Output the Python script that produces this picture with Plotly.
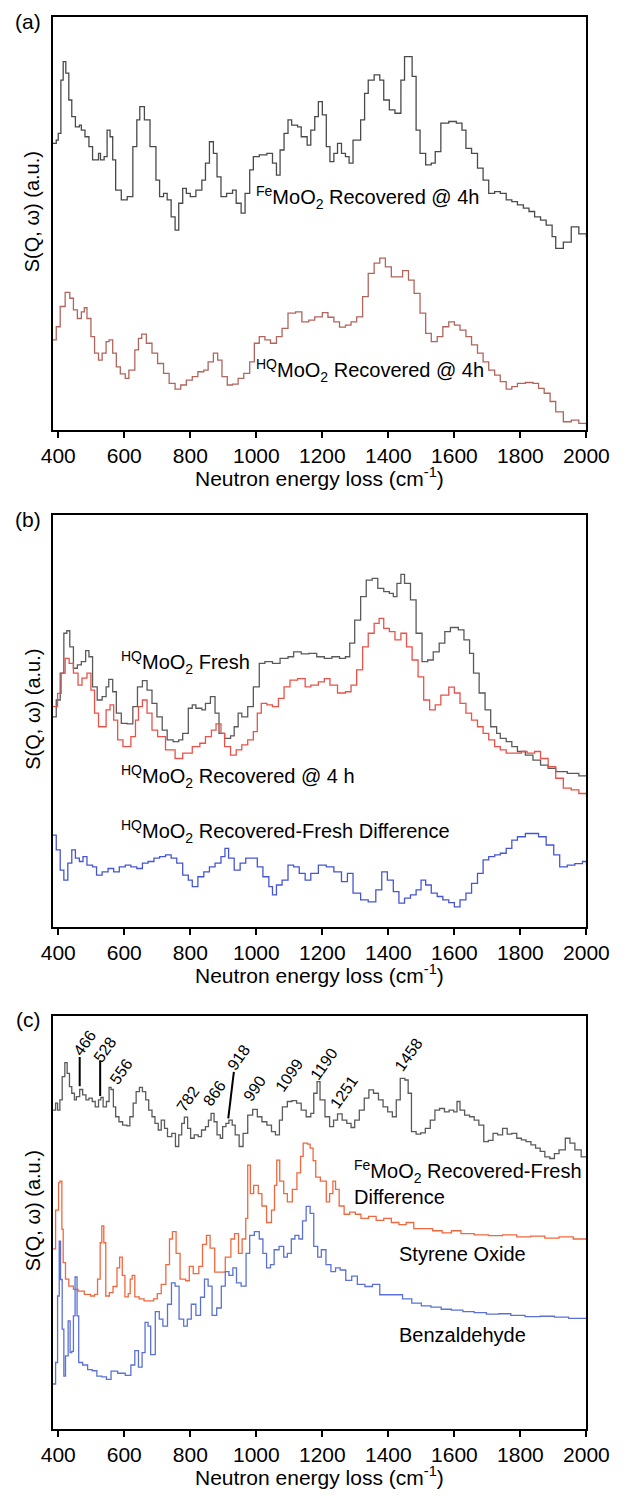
import plotly.graph_objects as go

# ---------------- data (energy in cm-1, intensity in arbitrary units 0-100) ----------------
a_fe_E = [383, 394, 400, 408, 415, 423, 432, 441, 452, 464, 470, 481, 493, 504, 522, 528, 539, 548, 557, 565,
          574, 591, 609, 626, 638, 647, 661, 678, 696, 707, 719, 730, 742, 754, 765, 777, 788, 800, 817, 835,
          846, 858, 870, 881, 893, 910, 928, 939, 954, 966, 980, 991, 1009, 1032, 1049, 1061, 1072, 1084, 1096,
          1107, 1125, 1136, 1154, 1165, 1177, 1188, 1200, 1212, 1223, 1235, 1246, 1258, 1270, 1281, 1293, 1304,
          1316, 1328, 1339, 1357, 1374, 1386, 1403, 1420, 1438, 1449, 1472, 1484, 1496, 1513, 1530, 1542, 1559,
          1583, 1606, 1623, 1635, 1652, 1670, 1687, 1704, 1722, 1739, 1757, 1774, 1791, 1809, 1826, 1843, 1861,
          1878, 1896, 1907, 1930, 1954, 1977, 2000]
a_fe_S = [69.4, 70.2, 71.8, 84.7, 89.2, 86.4, 79.9, 75.9, 73.4, 73.8, 72.6, 71.0, 68.6, 65.4, 67.0, 65.4, 66.2,
          72.6, 71.0, 65.4, 58.1, 55.7, 56.5, 68.6, 75.1, 78.3, 75.1, 68.6, 60.5, 56.5, 57.3, 55.7, 51.6, 48.4,
          54.9, 58.5, 57.3, 56.5, 58.1, 60.5, 64.6, 69.8, 67.0, 61.3, 56.5, 57.3, 58.1, 54.9, 52.5, 57.3, 63.0,
          66.2, 66.6, 67.0, 64.6, 61.7, 67.8, 71.8, 75.1, 73.8, 73.4, 71.0, 69.0, 72.6, 75.9, 79.5, 76.3, 68.6,
          65.0, 67.0, 69.4, 67.0, 66.2, 64.6, 70.2, 70.2, 75.1, 81.5, 84.7, 86.0, 84.7, 79.9, 77.5, 76.7, 84.7,
          90.4, 85.6, 72.6, 67.0, 64.2, 64.6, 67.4, 74.3, 74.7, 74.3, 72.6, 68.2, 67.0, 63.4, 60.5, 57.3, 57.7,
          57.3, 55.7, 55.3, 54.5, 53.7, 52.9, 51.6, 50.8, 49.6, 46.8, 44.0, 45.5, 49.2, 47.5, 46.5]

a_hq_E = [383, 394, 406, 421, 435, 446, 458, 470, 479, 487, 499, 510, 522, 533, 545, 554, 565, 576, 588, 603,
          614, 632, 643, 653, 667, 684, 701, 719, 736, 754, 771, 788, 806, 823, 841, 854, 870, 883, 896, 912,
          928, 945, 962, 980, 994, 1009, 1026, 1043, 1061, 1078, 1096, 1119, 1138, 1159, 1177, 1200, 1217, 1235,
          1252, 1270, 1287, 1304, 1322, 1339, 1357, 1374, 1391, 1409, 1426, 1443, 1461, 1478, 1496, 1513, 1530,
          1548, 1565, 1583, 1600, 1617, 1635, 1652, 1670, 1687, 1704, 1722, 1739, 1757, 1774, 1791, 1815, 1838,
          1855, 1872, 1890, 1907, 1930, 1954, 1977, 2000]
a_hq_S = [21.8, 25.0, 29.9, 33.3, 31.9, 29.1, 27.0, 28.6, 29.6, 27.0, 22.6, 18.6, 16.9, 18.6, 21.4, 21.8, 18.6,
          15.3, 13.6, 12.5, 14.5, 19.4, 22.2, 23.2, 21.0, 18.6, 16.1, 13.7, 11.3, 9.9, 10.9, 12.1, 12.9, 14.1,
          14.5, 16.5, 18.6, 16.9, 12.9, 10.9, 11.1, 12.5, 13.7, 16.5, 21.0, 22.6, 21.8, 21.0, 22.6, 24.6, 28.3,
          28.6, 26.2, 26.6, 27.4, 28.4, 27.3, 26.2, 24.9, 25.4, 26.2, 27.4, 32.3, 37.9, 40.4, 41.6, 39.5, 37.1,
          37.1, 38.6, 36.3, 33.1, 28.3, 23.4, 21.4, 22.6, 25.0, 26.2, 25.4, 24.2, 22.6, 20.6, 18.6, 16.5, 14.5,
          13.3, 11.7, 9.9, 10.5, 11.3, 11.5, 11.3, 10.1, 8.9, 6.9, 4.4, 2.0, 2.4, 1.6, 1.0]

b_fresh_E = [383, 394, 406, 417, 426, 435, 446, 458, 470, 483, 493, 504, 518, 533, 545, 553, 565, 576, 591, 609,
             626, 640, 655, 669, 684, 699, 715, 730, 748, 765, 777, 794, 806, 817, 835, 846, 861, 875, 887, 904,
             922, 933, 945, 956, 974, 991, 1009, 1026, 1049, 1072, 1096, 1113, 1136, 1159, 1183, 1206, 1229,
             1252, 1270, 1283, 1298, 1316, 1333, 1351, 1368, 1386, 1403, 1415, 1426, 1438, 1449, 1467, 1484,
             1502, 1519, 1536, 1554, 1571, 1588, 1612, 1629, 1646, 1658, 1675, 1693, 1710, 1728, 1739, 1757,
             1774, 1791, 1815, 1838, 1861, 1884, 1907, 1942, 1977, 2000]
b_fresh_S = [51.0, 55.1, 61.6, 71.3, 71.9, 68.0, 62.8, 63.6, 64.4, 67.1, 65.6, 58.3, 55.1, 55.9, 58.3, 60.1, 57.1,
             51.9, 49.4, 49.3, 53.5, 58.3, 59.8, 57.5, 54.3, 51.0, 47.8, 45.4, 45.0, 45.4, 47.0, 53.1, 53.9, 53.1,
             52.7, 54.3, 55.9, 51.9, 47.0, 45.8, 46.4, 48.6, 51.9, 51.0, 53.5, 58.3, 64.0, 64.4, 64.0, 65.2, 65.6,
             66.8, 66.3, 66.4, 65.6, 65.2, 65.6, 65.2, 65.6, 68.9, 74.5, 80.2, 84.2, 84.6, 82.2, 81.4, 81.0, 80.2,
             83.4, 85.6, 83.4, 79.4, 71.3, 64.4, 64.8, 66.8, 68.9, 71.7, 72.7, 72.1, 69.7, 66.4, 61.6, 56.8, 52.7,
             48.6, 47.0, 45.8, 45.0, 43.8, 42.6, 41.7, 40.5, 39.3, 38.5, 37.7, 37.3, 36.7, 36.5]

b_rec_E = [383, 398, 409, 421, 433, 446, 460, 472, 487, 499, 510, 522, 533, 545, 557, 568, 580, 596, 620, 634,
           643, 655, 669, 684, 701, 725, 754, 777, 806, 829, 846, 864, 878, 893, 904, 922, 939, 956, 974, 991,
           1003, 1015, 1032, 1049, 1067, 1084, 1102, 1125, 1148, 1165, 1188, 1206, 1223, 1246, 1270, 1287, 1304,
           1322, 1339, 1357, 1372, 1386, 1403, 1420, 1438, 1455, 1472, 1490, 1507, 1525, 1542, 1559, 1583, 1600,
           1617, 1635, 1652, 1670, 1687, 1704, 1722, 1739, 1757, 1780, 1803, 1820, 1843, 1861, 1884, 1907, 1930,
           1954, 1977, 2000]
b_rec_S = [53.5, 56.7, 61.6, 65.2, 64.0, 61.6, 58.7, 60.4, 61.6, 57.5, 51.9, 48.6, 48.6, 52.7, 53.9, 50.2, 45.4,
           43.8, 46.2, 50.2, 53.5, 55.1, 51.9, 47.8, 46.2, 43.0, 40.9, 42.2, 43.8, 44.6, 46.2, 47.8, 49.3, 47.0,
           43.8, 41.7, 43.0, 44.2, 45.4, 47.4, 51.9, 54.3, 53.9, 53.5, 55.5, 58.3, 59.9, 60.3, 58.3, 58.7, 59.5,
           60.3, 58.7, 56.8, 57.1, 58.7, 62.4, 68.0, 71.3, 73.7, 74.9, 72.5, 71.7, 69.7, 71.3, 68.0, 64.8, 60.7,
           55.1, 52.7, 53.9, 56.3, 58.2, 56.8, 54.3, 51.9, 50.2, 48.6, 47.0, 45.4, 43.8, 43.0, 42.2, 42.2, 42.6,
           42.2, 42.6, 40.9, 38.9, 36.1, 33.7, 33.3, 32.4, 31.6]

b_diff_E = [383, 394, 406, 417, 429, 441, 452, 464, 475, 487, 504, 516, 533, 551, 568, 585, 603, 620, 638, 655,
            672, 690, 707, 725, 742, 759, 777, 794, 806, 823, 841, 858, 875, 893, 905, 916, 933, 951, 968, 985,
            1003, 1020, 1038, 1049, 1061, 1078, 1096, 1113, 1130, 1148, 1165, 1188, 1212, 1235, 1258, 1276, 1293,
            1316, 1339, 1362, 1380, 1397, 1415, 1432, 1449, 1467, 1484, 1499, 1513, 1530, 1548, 1565, 1583, 1600,
            1617, 1635, 1652, 1670, 1687, 1704, 1722, 1739, 1757, 1774, 1791, 1815, 1838, 1855, 1878, 1901, 1919,
            1942, 1965, 1988, 2000]
b_diff_S = [22.3, 18.7, 13.8, 11.4, 15.5, 18.7, 16.7, 15.9, 17.1, 15.0, 14.6, 12.6, 13.4, 14.2, 13.4, 14.6, 15.0,
            14.6, 14.2, 15.5, 15.9, 16.7, 17.1, 17.5, 16.7, 15.5, 12.6, 11.4, 9.8, 12.2, 13.4, 14.6, 15.5, 17.1,
            19.1, 16.7, 13.8, 15.5, 16.7, 16.7, 14.6, 12.2, 9.8, 7.8, 10.2, 11.4, 15.0, 14.6, 13.0, 11.4, 13.0,
            15.0, 14.6, 13.4, 11.0, 13.0, 8.2, 6.6, 6.1, 9.0, 13.4, 11.4, 8.6, 5.8, 7.0, 7.8, 9.0, 11.4, 10.2, 8.2,
            7.4, 6.6, 5.9, 4.9, 6.6, 8.2, 10.6, 13.0, 16.3, 17.1, 17.5, 17.9, 19.1, 21.1, 21.9, 22.7, 22.7, 21.9,
            19.9, 17.5, 14.6, 15.0, 15.4, 15.9, 15.0]

c_fe_E = [383, 392, 398, 405, 412, 420, 427, 434, 441, 449, 455, 465, 474, 484, 493, 503, 512, 522, 529, 536,
          546, 554, 560, 567, 574, 584, 595, 608, 617, 627, 636, 646, 655, 665, 674, 684, 693, 703, 712, 722,
          731, 744, 755, 765, 774, 782, 792, 801, 812, 824, 834, 846, 855, 863, 872, 881, 891, 898, 908, 917,
          927, 936, 948, 960, 974, 989, 1003, 1017, 1032, 1046, 1058, 1070, 1079, 1094, 1108, 1122, 1136, 1151,
          1165, 1174, 1184, 1193, 1208, 1222, 1234, 1246, 1260, 1274, 1287, 1298, 1312, 1327, 1341, 1355, 1370,
          1384, 1398, 1412, 1424, 1436, 1450, 1460, 1470, 1484, 1498, 1512, 1527, 1541, 1555, 1570, 1584, 1598,
          1608, 1617, 1631, 1646, 1660, 1674, 1689, 1703, 1717, 1731, 1746, 1760, 1774, 1789, 1803, 1817, 1832,
          1846, 1860, 1874, 1889, 1903, 1917, 1936, 1950, 1965, 1984, 2000]
c_fe_S = [77.2, 78.9, 77.2, 79.7, 85.3, 88.7, 86.1, 82.9, 81.3, 79.7, 80.5, 82.2, 80.9, 79.7, 80.1, 79.3, 78.0,
          79.7, 80.3, 78.0, 79.3, 82.7, 82.2, 78.0, 75.6, 74.4, 73.6, 73.4, 75.6, 78.9, 81.7, 82.7, 81.7, 79.7,
          77.2, 75.6, 74.0, 72.4, 74.8, 72.8, 70.8, 71.6, 68.4, 71.2, 74.0, 75.5, 72.8, 70.4, 71.2, 70.8, 72.4,
          73.2, 74.8, 76.4, 74.4, 71.2, 70.4, 73.2, 74.0, 74.8, 73.6, 71.2, 68.4, 71.6, 76.0, 77.4, 75.6, 74.4,
          73.6, 72.0, 71.2, 74.8, 78.0, 79.3, 79.5, 78.9, 77.2, 75.6, 76.4, 81.3, 84.1, 79.7, 75.6, 73.2, 74.8,
          76.3, 74.8, 74.0, 73.0, 74.8, 77.2, 80.1, 82.1, 81.3, 79.7, 78.0, 76.8, 75.6, 79.7, 84.9, 84.5, 81.3,
          72.0, 71.4, 71.7, 72.8, 74.8, 77.2, 77.6, 76.8, 77.2, 76.8, 79.3, 77.2, 76.0, 75.6, 74.8, 73.6, 69.6,
          69.9, 71.6, 71.2, 72.8, 71.4, 71.6, 70.4, 70.0, 69.6, 68.8, 68.0, 67.2, 65.9, 65.5, 66.7, 67.6, 70.4,
          69.2, 67.6, 65.9, 65.9]

c_so_E = [383, 392, 401, 405, 411, 415, 422, 432, 446, 460, 479, 498, 510, 519, 527, 532, 538, 544, 555, 566,
          578, 586, 594, 602, 612, 618, 624, 632, 645, 660, 675, 689, 700, 712, 726, 737, 746, 757, 769, 786,
          797, 809, 826, 837, 849, 860, 874, 889, 906, 923, 934, 946, 957, 968, 974, 982, 992, 1006, 1017, 1031,
          1046, 1055, 1062, 1071, 1083, 1094, 1109, 1123, 1134, 1142, 1155, 1163, 1172, 1180, 1194, 1212, 1222,
          1232, 1240, 1251, 1266, 1283, 1300, 1317, 1340, 1363, 1386, 1409, 1432, 1454, 1477, 1506, 1534, 1563,
          1591, 1620, 1660, 1703, 1746, 1789, 1831, 1874, 1917, 1960, 2000]
c_so_S = [43.6, 53.0, 59.6, 60.0, 48.4, 40.3, 36.3, 34.6, 33.8, 33.4, 32.6, 32.2, 32.6, 36.3, 45.1, 49.2, 45.1,
          32.2, 33.0, 34.5, 39.0, 41.6, 37.2, 32.0, 32.8, 36.3, 37.2, 32.0, 31.5, 31.0, 31.0, 31.5, 32.8, 35.0,
          39.8, 46.0, 47.8, 42.5, 36.3, 35.9, 39.4, 37.6, 39.4, 44.7, 46.9, 43.8, 38.0, 38.0, 41.6, 46.0, 47.3,
          42.5, 46.0, 51.0, 63.9, 57.0, 59.0, 57.0, 54.0, 50.0, 53.0, 59.0, 65.1, 60.0, 57.0, 55.0, 58.0, 62.0,
          66.0, 69.2, 69.0, 68.0, 65.0, 61.0, 60.0, 55.0, 57.0, 60.0, 58.0, 54.0, 52.0, 52.5, 52.0, 51.0, 51.5,
          50.5, 51.0, 50.0, 49.5, 50.0, 48.5, 48.5, 48.0, 47.5, 48.0, 47.3, 47.0, 46.8, 47.0, 46.5, 46.7, 46.2,
          46.5, 46.0, 46.3]

c_bz_E = [383, 392, 398, 403, 407, 412, 417, 422, 430, 436, 441, 446, 451, 457, 462, 474, 489, 503, 517, 532,
          546, 560, 580, 603, 620, 632, 643, 654, 663, 672, 680, 694, 706, 717, 731, 743, 754, 766, 780, 791,
          803, 817, 831, 843, 854, 866, 880, 894, 906, 917, 929, 940, 954, 969, 980, 994, 1009, 1020, 1031, 1043,
          1054, 1069, 1083, 1094, 1106, 1117, 1129, 1140, 1151, 1163, 1174, 1186, 1197, 1211, 1226, 1240, 1254,
          1271, 1289, 1306, 1329, 1352, 1374, 1397, 1420, 1443, 1471, 1500, 1529, 1560, 1591, 1626, 1660, 1697,
          1734, 1771, 1814, 1860, 1903, 1946, 2000]
c_bz_S = [10.9, 16.1, 32.2, 45.5, 36.2, 24.2, 12.8, 17.7, 26.2, 18.5, 18.8, 27.4, 36.8, 27.4, 16.1, 15.5, 14.4,
          14.1, 12.8, 12.6, 12.0, 14.0, 13.5, 13.0, 15.5, 19.0, 15.0, 18.5, 25.8, 24.9, 18.0, 28.4, 26.6, 24.9,
          30.2, 35.4, 34.6, 26.6, 24.9, 26.6, 30.2, 27.5, 31.9, 36.3, 34.6, 27.5, 29.3, 34.6, 38.1, 37.2, 39.0,
          35.4, 34.6, 42.5, 46.9, 47.8, 46.0, 42.5, 39.0, 39.8, 43.4, 44.2, 41.6, 42.5, 46.0, 46.9, 46.0, 50.4,
          53.9, 52.2, 44.2, 41.6, 43.4, 39.8, 38.1, 39.0, 38.5, 36.0, 37.0, 35.0, 34.5, 35.0, 32.5, 32.5, 32.5,
          31.5, 30.5, 29.8, 29.5, 29.0, 28.8, 28.4, 28.2, 27.8, 27.9, 27.5, 27.2, 27.3, 27.1, 26.8, 27.0]

c_peak_labels = ["466", "528", "556", "782", "866", "918", "990", "1099", "1190", "1251", "1458"]
x_tick_vals = [400, 600, 800, 1000, 1200, 1400, 1600, 1800, 2000]
x_tick_text = ["400", "600", "800", "1000", "1200", "1400", "1600", "1800", "2000"]

# ---------------- layout geometry ----------------
W, H = 634, 1496
FONT = "Liberation Sans, Arial, Helvetica, sans-serif"
X0, X1 = 43, 608
PANELS = [(17, 430), (515, 927), (1016, 1429)]  # (top, bottom) pixels of plot frames
XR = [383, 2000]

def px(x):
    return x / W

def py(y):
    return 1 - y / H

fig = go.Figure()

def add_curve(E, S, color, idx, width=1.3):
    fig.add_trace(go.Scatter(
        x=E, y=S, mode="lines",
        line=dict(color=color, width=width, shape="hv"),
        xaxis="x" if idx == 1 else f"x{idx}",
        yaxis="y" if idx == 1 else f"y{idx}",
        showlegend=False, hoverinfo="skip"))

add_curve(a_fe_E, a_fe_S, "#4a4a4a", 1)
add_curve(a_hq_E, a_hq_S, "#b0665c", 1)
add_curve(b_fresh_E, b_fresh_S, "#5a5a5a", 2)
add_curve(b_rec_E, b_rec_S, "#e8524a", 2)
add_curve(b_diff_E, b_diff_S, "#4656d2", 2)
add_curve(c_fe_E, c_fe_S, "#5a5a5a", 3)
add_curve(c_so_E, c_so_S, "#f0683f", 3)
add_curve(c_bz_E, c_bz_S, "#5b72d4", 3)

layout = dict(
    width=W, height=H,
    margin=dict(l=0, r=0, t=0, b=0),
    paper_bgcolor="white", plot_bgcolor="white",
    font=dict(family=FONT, size=20, color="black"),
    showlegend=False,
)

for i, (top, bot) in enumerate(PANELS, 1):
    sx = "" if i == 1 else str(i)
    layout["xaxis" + sx] = dict(
        domain=[px(X0), px(X1)], range=XR, anchor="y" + sx,
        tickmode="array", tickvals=x_tick_vals, ticktext=x_tick_text,
        ticks="outside", ticklen=6, tickwidth=1.5, tickcolor="black",
        showline=True, linecolor="black", linewidth=1.6, mirror=True,
        showgrid=False, zeroline=False,
        tickfont=dict(family=FONT, size=21, color="black"),
    )
    layout["yaxis" + sx] = dict(
        domain=[py(bot), py(top)], range=[0, 100], anchor="x" + sx,
        showticklabels=False, ticks="",
        showline=True, linecolor="black", linewidth=1.6, mirror=True,
        showgrid=False, zeroline=False,
    )

annotations = []
shapes = []

def ann_px(text, x, y, size=20, angle=0, xanchor="center", yanchor="middle"):
    annotations.append(dict(text=text, x=px(x), y=py(y), xref="paper", yref="paper",
                            showarrow=False, textangle=angle, xanchor=xanchor, yanchor=yanchor,
                            font=dict(family=FONT, size=size, color="black")))

def ann_data(text, E, S, idx, size=20, angle=0, xanchor="center", yanchor="middle", align="center"):
    sx = "" if idx == 1 else str(idx)
    annotations.append(dict(text=text, x=E, y=S, xref="x" + sx, yref="y" + sx,
                            showarrow=False, textangle=angle, xanchor=xanchor, yanchor=yanchor,
                            align=align, font=dict(family=FONT, size=size, color="black")))

for lab, (top, bot) in zip(["(a)", "(b)", "(c)"], PANELS):
    ann_px(lab, 17, top + 4, size=21)
    ann_px("S(Q, ω) (a.u.)", 22, (top + bot) / 2 - 12, size=20, angle=-90)
    ann_px("Neutron energy loss (cm<sup>-1</sup>)", (X0 + X1) / 2, bot + 47, size=21)

# panel (a) labels
ann_data("<sup>Fe</sup>MoO<sub>2</sub> Recovered @ 4h", 1336, 56.2, 1)
ann_data("<sup>HQ</sup>MoO<sub>2</sub> Recovered @ 4h", 1345, 14.5, 1)

# panel (b) labels
ann_data("<sup>HQ</sup>MoO<sub>2</sub> Fresh", 585, 64.1, 2, xanchor="left")
ann_data("<sup>HQ</sup>MoO<sub>2</sub> Recovered @ 4 h", 585, 36.5, 2, xanchor="left")
ann_data("<sup>HQ</sup>MoO<sub>2</sub> Recovered-Fresh Difference", 585, 23.1, 2, xanchor="left")

# panel (c) labels
ann_data("<sup>Fe</sup>MoO<sub>2</sub> Recovered-Fresh<br>Difference", 1289, 59.7, 3,
         xanchor="left", align="left")
ann_data("Styrene Oxide", 1625, 42.3, 3)
ann_data("Benzaldehyde", 1625, 22.8, 3)

peak_label_pos = [(481, 93.6), (541, 92.0), (591, 86.5), (793, 80.1), (872, 81.3), (946, 90.0),
                  (994, 82.5), (1098, 85.7), (1205, 88.6), (1267, 81.7), (1462, 90.6)]
for lab, (E, S) in zip(c_peak_labels, peak_label_pos):
    ann_data(lab, E, S, 3, size=16, angle=-55)

leader_lines = [((465, 83.0), (465, 90.1)), ((527, 80.6), (527, 89.3)), ((915, 75.2), (932, 86.5))]
for (e0, s0), (e1, s1) in leader_lines:
    shapes.append(dict(type="line", xref="x3", yref="y3", x0=e0, y0=s0, x1=e1, y1=s1,
                       line=dict(color="black", width=2)))

layout["annotations"] = annotations
layout["shapes"] = shapes
fig.update_layout(**layout)
fig.write_html("out.html")
